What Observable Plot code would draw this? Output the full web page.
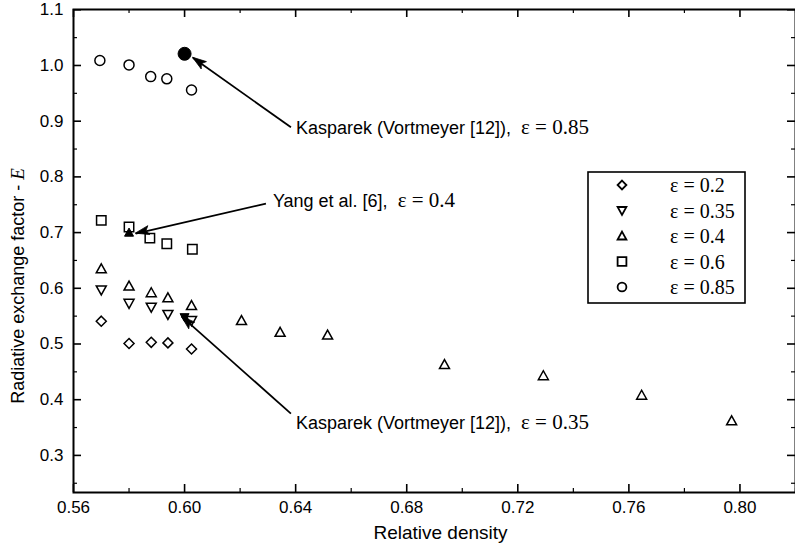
<!DOCTYPE html>
<html>
<head>
<meta charset="utf-8">
<script src="https://cdn.jsdelivr.net/npm/d3@7"></script>
<script src="https://cdn.jsdelivr.net/npm/@observablehq/plot@0.6"></script>
<style>
  body { margin: 0; background: #fff; }
  #wrap { width: 795px; height: 552px; overflow: hidden; }
</style>
</head>
<body>
<div id="wrap"></div>
<script>
// ---------- data ----------
const xMajor = [0.56, 0.60, 0.64, 0.68, 0.72, 0.76, 0.80];
const xMinor = [0.58, 0.62, 0.66, 0.70, 0.74, 0.78, 0.82];
const yMajor = [0.3, 0.4, 0.5, 0.6, 0.7, 0.8, 0.9, 1.0, 1.1];
const yMinor = [0.25, 0.35, 0.45, 0.55, 0.65, 0.75, 0.85, 0.95, 1.05];

const eps02X = [0.570, 0.580, 0.588, 0.594, 0.6025];
const eps02Y = [0.541, 0.501, 0.503, 0.502, 0.491];
const eps035X = [0.570, 0.580, 0.588, 0.594, 0.6025];
const eps035Y = [0.597, 0.573, 0.566, 0.553, 0.542];
const eps04X = [0.570, 0.580, 0.588, 0.594, 0.6025, 0.6205, 0.6344, 0.6515, 0.6936, 0.7292, 0.7646, 0.797];
const eps04Y = [0.635, 0.604, 0.592, 0.583, 0.569, 0.542, 0.521, 0.516, 0.463, 0.443, 0.408, 0.362];
const eps06X = [0.570, 0.580, 0.5875, 0.5936, 0.6028];
const eps06Y = [0.722, 0.710, 0.690, 0.680, 0.670];
const eps085X = [0.5695, 0.580, 0.5878, 0.5936, 0.6025];
const eps085Y = [1.009, 1.001, 0.980, 0.976, 0.956];

const legendLabels = ["ε = 0.2", "ε = 0.35", "ε = 0.4", "ε = 0.6", "ε = 0.85"];

// literature reference points (filled)
const refX = [0.600, 0.580, 0.600];
const refY = [1.021, 0.700, 0.548];

// annotations
const noteLabels = ["Kasparek (Vortmeyer [12]),  ε = 0.85", "Yang et al. [6],  ε = 0.4", "Kasparek (Vortmeyer [12]),  ε = 0.35"];
const noteX = [0.6401, 0.6318, 0.6401];
const noteY = [0.887, 0.756, 0.357];
const arrowX1 = [0.6383, 0.6293, 0.6383];
const arrowY1 = [0.889, 0.752, 0.375];
const arrowX2 = [0.6030, 0.5824, 0.5990];
const arrowY2 = [1.014, 0.698, 0.549];

// ---------- symbols ----------
const rad = s => Math.sqrt(s / Math.PI);
const symDiamond = {draw(c, s) { const r = rad(s); c.moveTo(0, -r); c.lineTo(r, 0); c.lineTo(0, r); c.lineTo(-r, 0); c.closePath(); }};
const symTriDown = {draw(c, s) { const r = rad(s); c.moveTo(-r, -0.8 * r); c.lineTo(r, -0.8 * r); c.lineTo(0, r); c.closePath(); }};
const symTriUp = {draw(c, s) { const r = rad(s); c.moveTo(0, -r); c.lineTo(r, 0.8 * r); c.lineTo(-r, 0.8 * r); c.closePath(); }};
const symSquare = {draw(c, s) { const r = rad(s); c.rect(-r, -r, 2 * r, 2 * r); }};
const symCircle = {draw(c, s) { const r = rad(s); c.moveTo(r, 0); c.arc(0, 0, r, 0, 2 * Math.PI); }};

const series = [
  {xs: eps02X, ys: eps02Y, symbol: symDiamond, r: 5},
  {xs: eps035X, ys: eps035Y, symbol: symTriDown, r: 5},
  {xs: eps04X, ys: eps04Y, symbol: symTriUp, r: 5},
  {xs: eps06X, ys: eps06Y, symbol: symSquare, r: 4.7},
  {xs: eps085X, ys: eps085Y, symbol: symCircle, r: 5}
];
const refSymbols = [symCircle, symTriUp, symTriDown];
const refR = [6.5, 4.5, 4.5];

const rows = (xs, ys) => ys.map((y, i) => ({x: xs[i], y}));

// ---------- plot ----------
const W = 795, H = 552, mL = 73, mR = 0, mT = 9, mB = 60;
const innerW = W - mL - mR, innerH = H - mT - mB;

const marks = [
  Plot.frame({stroke: "black", strokeWidth: 2}),
  Plot.ruleX(xMajor, {insetTop: innerH - 8, strokeWidth: 1.6}),
  Plot.ruleX(xMajor, {insetBottom: innerH - 8, strokeWidth: 1.6}),
  Plot.ruleX(xMinor, {insetTop: innerH - 4, strokeWidth: 1.2}),
  Plot.ruleX(xMinor, {insetBottom: innerH - 4, strokeWidth: 1.2}),
  Plot.ruleY(yMajor, {insetRight: innerW - 8, strokeWidth: 1.6}),
  Plot.ruleY(yMajor, {insetLeft: innerW - 8, strokeWidth: 1.6}),
  Plot.ruleY(yMinor, {insetRight: innerW - 4, strokeWidth: 1.2}),
  Plot.ruleY(yMinor, {insetLeft: innerW - 4, strokeWidth: 1.2}),
  Plot.axisX({ticks: xMajor, tickSize: 0, tickPadding: 8, tickFormat: d3.format(".2f"), label: null, fontSize: 17}),
  Plot.axisY({ticks: yMajor, tickSize: 0, tickPadding: 10, tickFormat: d3.format(".1f"), label: null, fontSize: 17}),
  Plot.text(["Relative density"], {frameAnchor: "bottom", dx: 6, dy: 46, fontSize: 19}),
  Plot.text(["Radiative exchange factor - E"], {frameAnchor: "left", textAnchor: "middle", rotate: -90, dx: -55, dy: 35, fontSize: 18})
];

for (const s of series) {
  marks.push(Plot.dot(rows(s.xs, s.ys), {x: "x", y: "y", symbol: s.symbol, r: s.r, stroke: "black", fill: "none", strokeWidth: 1.5}));
}
refX.forEach((x, i) => {
  marks.push(Plot.dot([{x, y: refY[i]}], {x: "x", y: "y", symbol: refSymbols[i], r: refR[i], fill: "black", stroke: "black", strokeWidth: 1}));
});

const arrows = arrowX1.map((x1, i) => ({x1, y1: arrowY1[i], x2: arrowX2[i], y2: arrowY2[i]}));
marks.push(Plot.link(arrows, {x1: "x1", y1: "y1", x2: "x2", y2: "y2", stroke: "black", strokeWidth: 1.8}));

const notes = noteLabels.map((t, i) => ({t, x: noteX[i], y: noteY[i]}));
marks.push(Plot.text(notes, {x: "x", y: "y", text: "t", textAnchor: "start", fontSize: 18}));

const plot = Plot.plot({
  width: W, height: H,
  marginLeft: mL, marginRight: mR, marginTop: mT, marginBottom: mB,
  x: {domain: [0.56, 0.82]},
  y: {domain: [0.2334, 1.1005]},
  style: {fontFamily: "'Liberation Sans', Arial, sans-serif", color: "black", background: "white", overflow: "visible"},
  marks
});

// mixed fonts: Greek epsilon parts and italic E in serif
const NS = "http://www.w3.org/2000/svg";
plot.querySelectorAll("text").forEach(t => {
  const s = t.textContent;
  if (t.querySelector("tspan")) return;
  let head = null, tail = null, italic = false;
  const i = s.indexOf("ε");
  if (i > 0) { head = s.slice(0, i); tail = s.slice(i); }
  else if (s.endsWith("- E")) { head = s.slice(0, -1); tail = "E"; italic = true; }
  if (head === null) return;
  t.textContent = "";
  const a = document.createElementNS(NS, "tspan"); a.textContent = head; t.appendChild(a);
  const b = document.createElementNS(NS, "tspan"); b.textContent = tail;
  b.setAttribute("font-family", "'Liberation Serif', 'Times New Roman', serif");
  b.setAttribute("font-size", italic ? "19" : "21");
  if (italic) b.setAttribute("font-style", "italic");
  t.appendChild(b);
});

const svg = d3.select(plot);
const sx = plot.scale("x"), sy = plot.scale("y");

// filled arrowheads at the arrow tips (positions through the plot's scales)
arrows.forEach(a => {
  const px1 = sx.apply(a.x1), py1 = sy.apply(a.y1), px2 = sx.apply(a.x2), py2 = sy.apply(a.y2);
  const dx = px2 - px1, dy = py2 - py1, L = Math.hypot(dx, dy);
  const ux = dx / L, uy = dy / L, hl = 14, hw = 4.5;
  const bx = px2 - ux * hl, by = py2 - uy * hl;
  const pts = [[px2, py2], [bx - uy * hw, by + ux * hw], [bx + ux * 3, by + uy * 3], [bx + uy * hw, by - ux * hw]];
  svg.append("path").attr("d", "M" + pts.map(p => p.join(",")).join("L") + "Z")
    .attr("fill", "black").attr("stroke", "black").attr("stroke-width", 0.8);
});

// legend (inside plot area, top-right)
const lg = svg.append("g").attr("transform", "translate(588,172)");
lg.append("rect").attr("width", 157).attr("height", 131).attr("fill", "white").attr("stroke", "black").attr("stroke-width", 1.6);
series.forEach((s, i) => {
  const cy = 13 + i * 25.5;
  const p = d3.path(); s.symbol.draw(p, Math.PI * 4.4 * 4.4);
  lg.append("path").attr("d", p.toString()).attr("transform", `translate(34,${cy})`)
    .attr("fill", "none").attr("stroke", "black").attr("stroke-width", 1.8);
  lg.append("text").attr("x", 82).attr("y", cy).attr("dy", "0.35em")
    .attr("text-anchor", "start")
    .attr("font-family", "'Liberation Serif', 'Times New Roman', serif").attr("font-size", 20)
    .text(legendLabels[i]);
});

document.getElementById("wrap").appendChild(plot);
</script>
</body>
</html>
